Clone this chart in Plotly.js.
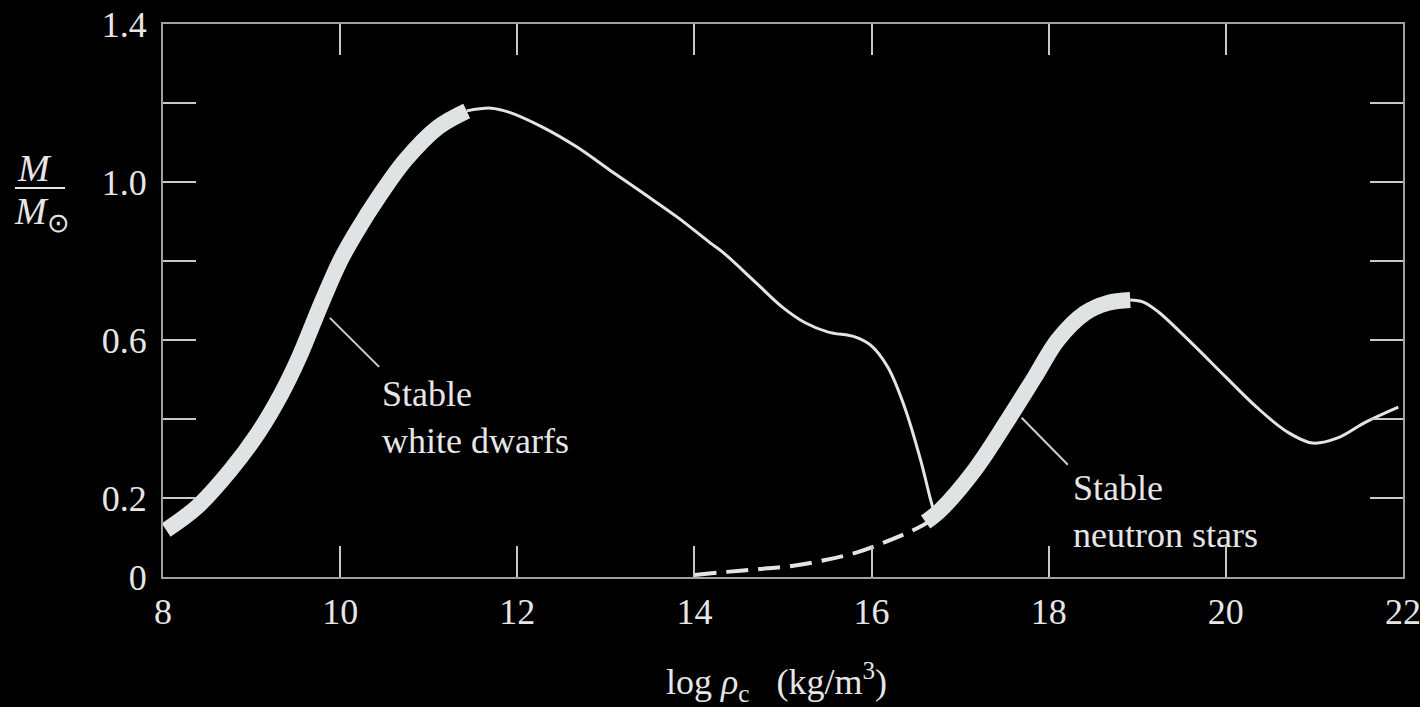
<!DOCTYPE html>
<html>
<head>
<meta charset="utf-8">
<script src="https://cdn.plot.ly/plotly-3.0.1.min.js"></script>
<style>
html, body { margin:0; padding:0; background:#000; }
#chart { width:1420px; height:707px; }
</style>
</head>
<body>
<div id="chart"></div>
<script>
// ---- Data ----
// x: log10 of central density (kg/m^3), y: M / M_sun
const wdStableX = [8.035, 8.382, 8.763, 9.075, 9.341, 9.538, 9.792, 10.000, 10.179, 10.464, 10.738, 11.107, 11.429];
const wdStableY = [0.119, 0.177, 0.271, 0.365, 0.466, 0.557, 0.695, 0.800, 0.872, 0.972, 1.056, 1.139, 1.180];

const unstableX = [11.429, 11.702, 11.905, 12.284, 12.670, 13.045, 13.420, 13.807, 14.178, 14.322, 14.700, 14.989, 15.256, 15.511, 15.811, 15.989, 16.181, 16.373, 16.554, 16.667, 16.712];
const unstableY = [1.180, 1.187, 1.177, 1.139, 1.089, 1.030, 0.972, 0.911, 0.846, 0.822, 0.744, 0.684, 0.643, 0.620, 0.608, 0.587, 0.532, 0.430, 0.296, 0.195, 0.160];

const dashedX = [14.0, 14.367, 14.733, 15.100, 15.478, 15.844, 16.215, 16.520, 16.640];
const dashedY = [0.005, 0.013, 0.020, 0.028, 0.043, 0.063, 0.094, 0.124, 0.139];

const nsStableX = [16.610, 16.780, 17.164, 17.537, 17.842, 18.102, 18.409, 18.670, 18.920];
const nsStableY = [0.139, 0.170, 0.271, 0.397, 0.506, 0.600, 0.668, 0.694, 0.701];

const nsUnstableX = [18.920, 19.068, 19.239, 19.614, 20.000, 20.347, 20.695, 20.979, 21.263, 21.579, 21.947];
const nsUnstableY = [0.701, 0.696, 0.671, 0.592, 0.506, 0.430, 0.367, 0.339, 0.352, 0.392, 0.430];

const wdLeaderX = [9.884, 10.440];
const wdLeaderY = [0.656, 0.532];
const nsLeaderX = [17.694, 18.216];
const nsLeaderY = [0.403, 0.284];

const xTickVals = [8, 10, 12, 14, 16, 18, 20, 22];
const xTickText = ['8', '10', '12', '14', '16', '18', '20', '22'];
const yTickVals = [0, 0.2, 0.6, 1.0, 1.4];
const yTickText = ['0', '0.2', '0.6', '1.0', '1.4'];
const yMinorTickVals = [0.4, 0.8, 1.2];

const labelWD = 'Stable<br>white dwarfs';
const labelNS = 'Stable<br>neutron stars';
const xTitle = 'log <i>ρ</i><sub>c</sub>\u00a0\u00a0\u00a0(kg/m<sup>3</sup>)';

// ---- Styles ----
const FONT = 'Liberation Serif, Times New Roman, serif';
const TXT = '#e6e6e6';
const THICK = '#dfe3e3';
const THIN = '#e4e4e4';
const SM = 1.0;

const traces = [
  {x: unstableX, y: unstableY, mode: 'lines', line: {color: THIN, width: 3, shape: 'spline', smoothing: SM}, hoverinfo: 'skip'},
  {x: nsUnstableX, y: nsUnstableY, mode: 'lines', line: {color: THIN, width: 3, shape: 'spline', smoothing: SM}, hoverinfo: 'skip'},
  {x: dashedX, y: dashedY, mode: 'lines', line: {color: THIN, width: 4, dash: '22px,10px', shape: 'spline', smoothing: SM}, hoverinfo: 'skip'},
  {x: wdLeaderX, y: wdLeaderY, mode: 'lines', line: {color: '#cfcfcf', width: 2}, hoverinfo: 'skip'},
  {x: nsLeaderX, y: nsLeaderY, mode: 'lines', line: {color: '#cfcfcf', width: 2}, hoverinfo: 'skip'},
  {x: wdStableX, y: wdStableY, mode: 'lines', line: {color: THICK, width: 16, shape: 'spline', smoothing: SM}, hoverinfo: 'skip'},
  {x: nsStableX, y: nsStableY, mode: 'lines', line: {color: THICK, width: 16, shape: 'spline', smoothing: SM}, hoverinfo: 'skip'}
];

const layout = {
  width: 1420, height: 707,
  paper_bgcolor: '#000', plot_bgcolor: '#000',
  margin: {l: 163, r: 17, t: 24, b: 130, pad: 0},
  showlegend: false,
  font: {family: FONT, color: TXT, size: 36},
  xaxis: {
    range: [8, 22], tickvals: xTickVals, ticktext: xTickText,
    ticks: 'inside', ticklen: 31, tickwidth: 2, tickcolor: '#c8c8c8',
    showline: true, linecolor: '#a0a0a0', linewidth: 2, mirror: 'ticks',
    showgrid: false, zeroline: false,
    tickfont: {family: FONT, size: 36, color: TXT},
    ticklabelstandoff: 2, ticklabeloverflow: 'allow'
  },
  yaxis: {
    range: [0, 1.4], tickvals: yTickVals, ticktext: yTickText,
    ticks: 'inside', ticklen: 33, tickwidth: 2, tickcolor: '#c8c8c8',
    minor: {tickvals: yMinorTickVals, ticks: 'inside', ticklen: 33, tickwidth: 2, tickcolor: '#c8c8c8', showgrid: false},
    showline: true, linecolor: '#a0a0a0', linewidth: 2, mirror: 'ticks',
    showgrid: false, zeroline: false,
    tickfont: {family: FONT, size: 36, color: TXT},
    ticklabelstandoff: 7
  },
  annotations: [
    {text: xTitle, x: 0.495, y: -0.19, xref: 'paper', yref: 'paper', xanchor: 'center', yanchor: 'middle', showarrow: false, font: {family: FONT, size: 36, color: TXT}},
    {text: labelWD, x: 10.452, y: 0.404, xref: 'x', yref: 'y', xanchor: 'left', yanchor: 'middle', align: 'left', showarrow: false, font: {family: FONT, size: 36, color: TXT}},
    {text: labelNS, x: 18.25, y: 0.166, xref: 'x', yref: 'y', xanchor: 'left', yanchor: 'middle', align: 'left', showarrow: false, font: {family: FONT, size: 36, color: TXT}},
    {text: '<i>M</i>', x: -0.104, y: 0.7396, xref: 'paper', yref: 'paper', xanchor: 'center', yanchor: 'middle', showarrow: false, font: {family: FONT, size: 38, color: TXT}},
    {text: '<i>M</i><sub>⊙</sub>', x: -0.0976, y: 0.6564, xref: 'paper', yref: 'paper', xanchor: 'center', yanchor: 'middle', showarrow: false, font: {family: FONT, size: 38, color: TXT}}
  ],
  shapes: [
    {type: 'line', xref: 'paper', yref: 'paper', x0: -0.1194, x1: -0.079, y0: 0.7034, y1: 0.7034, line: {color: TXT, width: 2}}
  ]
};

Plotly.newPlot('chart', traces, layout, {displayModeBar: false, staticPlot: true});
</script>
</body>
</html>
